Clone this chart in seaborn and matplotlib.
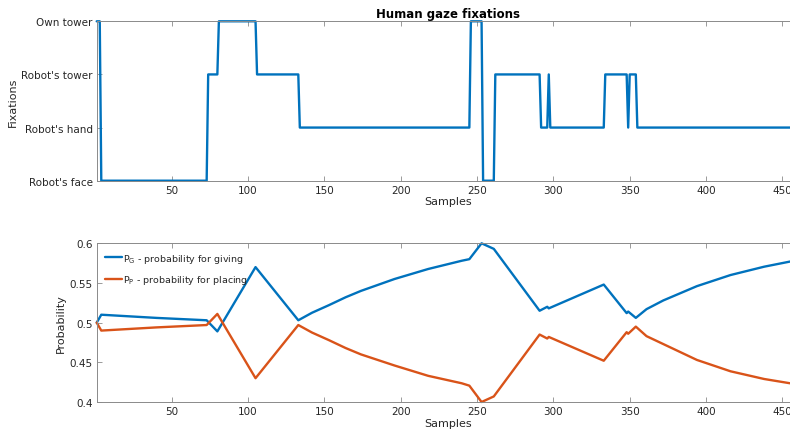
import matplotlib
matplotlib.use("Agg")
import matplotlib.pyplot as plt
import seaborn as sns
import pandas as pd

# ---- data ----
fix_labels = ["Robot's face", "Robot's hand", "Robot's tower", "Own tower"]
fix_x = [1, 3, 4, 73, 74, 80, 81, 105, 106, 133, 134, 245, 246, 253, 254, 261,
         262, 291, 292, 296, 297, 298, 333, 334, 348, 349, 350, 354, 355, 455]
fix_y = [3, 3, 0, 0, 2, 2, 3, 3, 2, 2, 1, 1, 3, 3, 0, 0,
         2, 2, 1, 1, 2, 1, 1, 2, 2, 1, 2, 2, 1, 1]

prob_x = [1, 4, 40, 73, 80, 105, 133, 142, 153, 164, 174, 196, 218, 240, 245,
          253, 261, 291, 296, 297, 333, 348, 349, 354, 361, 372, 394, 416, 438, 455]
p_giving = [0.500, 0.510, 0.506, 0.503, 0.489, 0.570, 0.503, 0.5125, 0.522, 0.532,
            0.540, 0.555, 0.5676, 0.578, 0.580, 0.600, 0.593, 0.515, 0.520,
            0.518, 0.548, 0.512, 0.514, 0.506, 0.517, 0.528, 0.546, 0.560,
            0.5705, 0.577]
p_placing = [0.500, 0.490, 0.494, 0.497, 0.511, 0.430, 0.497, 0.4875, 0.478, 0.468,
             0.460, 0.446, 0.433, 0.4236, 0.4206, 0.400, 0.407, 0.485, 0.480,
             0.482, 0.452, 0.488, 0.486, 0.495, 0.483, 0.473, 0.453, 0.4387,
             0.429, 0.4236]
x_ticks = [50, 100, 150, 200, 250, 300, 350, 400, 450]
prob_ticks = [0.4, 0.45, 0.5, 0.55, 0.6]
prob_ticklabels = ["0.4", "0.45", "0.5", "0.55", "0.6"]

# ---- style ----
sns.set_style("ticks")
plt.rcParams["font.family"] = ["DejaVu Sans"]
plt.rcParams["mathtext.default"] = "regular"
BLUE = "#0072BD"
ORANGE = "#D95319"
EDGE = "#8a8a8a"
TXT = "#262626"

fig = plt.figure(figsize=(7.9, 4.35), dpi=100)
W, H = 790, 435
L, R = 96.7, 800
ax1 = fig.add_axes([L / W, 1 - 181.7 / H, (R - L) / W, (181.7 - 22.3) / H])
ax2 = fig.add_axes([L / W, 1 - 403.0 / H, (R - L) / W, (403.0 - 244.3) / H])

df_fix = pd.DataFrame({"Samples": fix_x, "Fixation": fix_y})
sns.lineplot(data=df_fix, x="Samples", y="Fixation", ax=ax1, color=BLUE,
             linewidth=1.7, estimator=None, sort=False)

df_prob = pd.DataFrame({
    "Samples": prob_x * 2,
    "Probability": p_giving + p_placing,
    "series": [r"P$_{G}$ - probability for giving"] * len(prob_x)
              + [r"P$_{P}$ - probability for placing"] * len(prob_x),
})
sns.lineplot(data=df_prob, x="Samples", y="Probability", hue="series",
             palette=[BLUE, ORANGE], ax=ax2, linewidth=1.7, estimator=None,
             sort=False)

for ax in (ax1, ax2):
    for ln in ax.get_lines():
        ln.set_clip_on(False)
        ln.set_solid_joinstyle("round")
    ax.set_xlim(1, 461.5)
    ax.set_xticks(x_ticks)
    ax.tick_params(direction="in", length=3.5, width=0.6, color=EDGE,
                   labelcolor=TXT, labelsize=7.5, top=True, right=True, pad=3)
    for s in ax.spines.values():
        s.set_color(EDGE)
        s.set_linewidth(0.7)
    ax.set_xlabel("Samples", fontsize=8, color=TXT, labelpad=1)

ax1.set_ylim(0, 3)
ax1.set_yticks([0, 1, 2, 3])
ax1.set_yticklabels(fix_labels)
ax1.set_ylabel("Fixations", fontsize=8, color=TXT, labelpad=2.5)
ax1.set_title("Human gaze fixations", fontsize=8.5, fontweight="bold",
              color="black", pad=3)

ax2.set_ylim(0.4, 0.6)
ax2.set_yticks(prob_ticks)
ax2.set_yticklabels(prob_ticklabels)
ax2.set_ylabel("Probability", fontsize=8, color=TXT, labelpad=2.5)
leg = ax2.legend(loc="upper left", frameon=False, fontsize=6.8,
                 handlelength=1.75, handletextpad=0.15, labelspacing=0.9,
                 borderaxespad=0.5, title=None)
for t in leg.get_texts():
    t.set_color(TXT)

fig.savefig("out.png", dpi=100)
